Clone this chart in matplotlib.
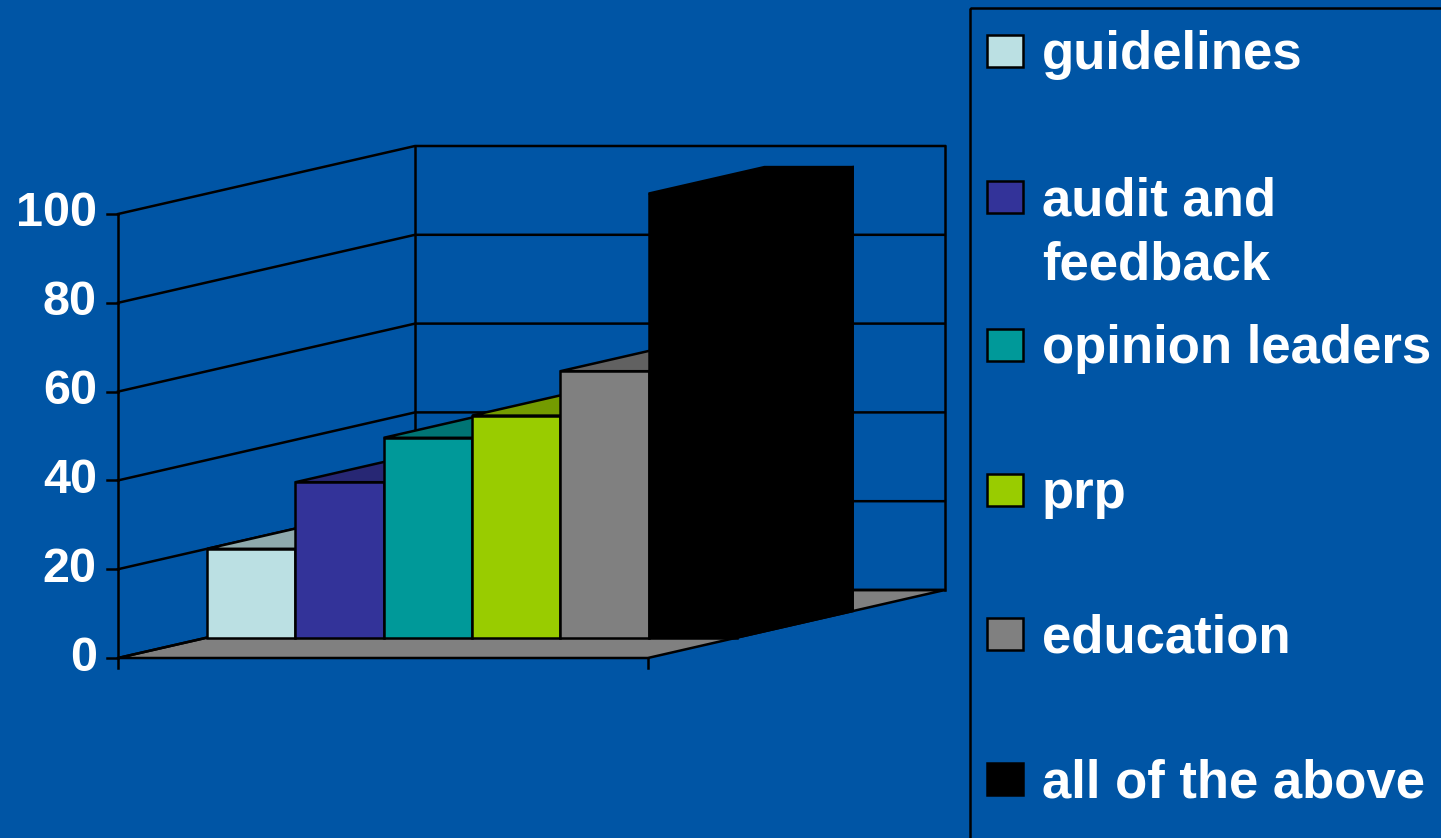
import matplotlib.pyplot as plt
from matplotlib.patches import Polygon, Rectangle
from matplotlib.transforms import Affine2D
from matplotlib.colors import to_rgb

categories = ['guidelines', 'audit and\nfeedback', 'opinion leaders', 'prp', 'education', 'all of the above']
values = [20, 35, 45, 50, 60, 100]
colors = ['#BBE0E3', '#333399', '#009999', '#99CC00', '#808080', '#000000']
yticks = [0, 20, 40, 60, 80, 100]

BG = '#0055A5'
W, H = 1441, 838
FONT = 'Liberation Sans'

# scale of the chart: pixels per category and per value unit
CAT_PX = 88.3
VAL_PX = 4.44
X0_PX, Y0_PX = 118, 658          # where (0, 0) of the front plane sits
DX = 297 / CAT_PX                # depth offset, in data units
DY = 68 / VAL_PX
D0, D1 = 0.30, 0.69              # bar depth range (0 = front, 1 = back wall)
LW = 1.8


def proj(x, v, d):
    return (x + d * DX, v + d * DY)


def shade(c, f):
    r, g, b = to_rgb(c)
    return (r * f, g * f, b * f)


fig = plt.figure(figsize=(W / 100, H / 100), dpi=100, facecolor=BG)
ax = fig.add_axes([0, 0, 1, 1])
ax.set_xlim(-X0_PX / CAT_PX, (W - X0_PX) / CAT_PX)
ax.set_ylim((Y0_PX - H) / VAL_PX, Y0_PX / VAL_PX)
ax.set_facecolor(BG)
ax.axis('off')

n = len(categories)
vmax = yticks[-1]

# floor
ax.add_patch(Polygon([proj(0, 0, 0), proj(n, 0, 0), proj(n, 0, 1), proj(0, 0, 1)],
                     closed=True, facecolor='#808080', edgecolor='black', lw=LW, zorder=1))

# gridlines on the left wall and the back wall
for t in yticks:
    xa, ya = proj(0, t, 0)
    xb, yb = proj(0, t, 1)
    xc, yc = proj(n, t, 1)
    ax.plot([xa, xb, xc], [ya, yb, yc], color='black', lw=LW, zorder=2)
    ax.plot([xa - 0.13, xa], [ya, ya], color='black', lw=LW, zorder=2)
    ax.text(-0.24, t, str(t), ha='right', va='center', color='white',
            fontsize=35, fontweight='bold', family=FONT)

# wall frame
for x in (0, n):
    xb, yb = proj(x, 0, 1)
    xt, yt = proj(x, vmax, 1)
    ax.plot([xb, xt], [yb, yt], color='black', lw=LW, zorder=2)
ax.plot([0, 0], [-2.3, vmax], color='black', lw=LW, zorder=2)
ax.plot([n, n], [-2.3, 0], color='black', lw=LW, zorder=2)

# bars, left to right so each one hides the side of the previous
for i, (v, c) in enumerate(zip(values, colors)):
    x0, x1 = i, i + 1
    side = [proj(x1, 0, D0), proj(x1, 0, D1), proj(x1, v, D1), proj(x1, v, D0)]
    top = [proj(x0, v, D0), proj(x1, v, D0), proj(x1, v, D1), proj(x0, v, D1)]
    front = [proj(x0, 0, D0), proj(x1, 0, D0), proj(x1, v, D0), proj(x0, v, D0)]
    ax.add_patch(Polygon(side, closed=True, facecolor=shade(c, 0.55),
                         edgecolor='black', lw=LW, zorder=3 + i))
    ax.add_patch(Polygon(top, closed=True, facecolor=shade(c, 0.76),
                         edgecolor='black', lw=LW, zorder=3 + i))
    ax.add_patch(Polygon(front, closed=True, facecolor=c,
                         edgecolor='black', lw=LW, zorder=3 + i))

# legend, laid out in pixel units from the top-left corner
px = Affine2D().scale(1 / W, -1 / H).translate(0, 1) + fig.transFigure
fig.patches.append(Rectangle((970, 8), 600, 900, transform=px, fill=False,
                             edgecolor='black', lw=LW))
centers = [51, 197, 345, 490, 634, 779]
for label, c, yc in zip(categories, colors, centers):
    fig.patches.append(Rectangle((987, yc - 16), 36, 32, transform=px,
                                 facecolor=c, edgecolor='black', lw=LW))
    for j, line in enumerate(label.split('\n')):
        fig.text(1042, yc + 18 + j * 64, line, transform=px, ha='left', va='baseline',
                 color='white', fontsize=38, fontweight='bold', family=FONT)

fig.savefig('out.png', dpi=100, facecolor=BG)
